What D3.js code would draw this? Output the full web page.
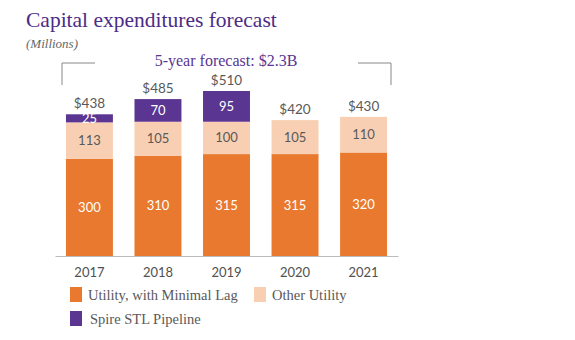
<!DOCTYPE html>
<html>
<head>
<meta charset="utf-8">
<script src="https://cdn.jsdelivr.net/npm/d3@7"></script>
<style>
  body { margin: 0; background: #fff; }
  svg { display: block; }
</style>
</head>
<body>
<div id="chart"></div>
<script>
// chart data
var years = ["2017", "2018", "2019", "2020", "2021"];
var utility = [300, 310, 315, 315, 320];
var otherUtility = [113, 105, 100, 105, 110];
var pipeline = [25, 70, 95, 0, 0];
var totals = ["$438", "$485", "$510", "$420", "$430"];
var seriesNames = ["Utility, with Minimal Lag", "Other Utility", "Spire STL Pipeline"];

var svgWidth = 575;
var svgHeight = 340;
var colors = ["#E8792F", "#F8CFB3", "#5A3591"];
var serif = "'Liberation Serif', Georgia, serif";
var sans = "Lato, 'Open Sans', sans-serif";

var svg = d3.select("#chart").append("svg")
  .attr("width", svgWidth)
  .attr("height", svgHeight);

// scales
var x = d3.scaleBand()
  .domain(years)
  .range([55, 398])
  .paddingInner(0.315)
  .paddingOuter(0.16);

var y = d3.scaleLinear()
  .domain([0, 510])
  .range([256, 91]);

// stack the rows
var rows = years.map(function(yr, i) {
  return { year: yr, utility: utility[i], other: otherUtility[i], pipeline: pipeline[i] };
});
var stack = d3.stack().keys(["utility", "other", "pipeline"]);
var layers = stack(rows);

// title block
svg.append("text")
  .attr("x", 26).attr("y", 27)
  .attr("font-family", serif)
  .attr("font-size", 21.5)
  .attr("fill", "#4B2C85")
  .text("Capital expenditures forecast");

svg.append("text")
  .attr("x", 26).attr("y", 48)
  .attr("font-family", serif)
  .attr("font-style", "italic")
  .attr("font-size", 13)
  .attr("fill", "#666")
  .text("(Millions)");

svg.append("text")
  .attr("x", 226).attr("y", 66)
  .attr("text-anchor", "middle")
  .attr("font-family", serif)
  .attr("font-size", 16)
  .attr("fill", "#5A3591")
  .text("5-year forecast: $2.3B");

// brackets
svg.append("path")
  .attr("d", "M95,63H62V85")
  .attr("fill", "none")
  .attr("stroke", "#888")
  .attr("stroke-width", 1);
svg.append("path")
  .attr("d", "M358,63H391V85")
  .attr("fill", "none")
  .attr("stroke", "#888")
  .attr("stroke-width", 1);

// bars
var groups = svg.selectAll("g.layer")
  .data(layers)
  .enter()
  .append("g")
  .attr("class", "layer")
  .attr("fill", function(d, i) { return colors[i]; });

groups.selectAll("rect")
  .data(function(d) { return d.filter(function(s) { return s[1] > s[0]; }); })
  .enter()
  .append("rect")
  .attr("x", function(d) { return x(d.data.year); })
  .attr("y", function(d) { return y(d[1]); })
  .attr("width", x.bandwidth())
  .attr("height", function(d) { return y(d[0]) - y(d[1]); });

// segment labels
groups.each(function(layer, li) {
  d3.select(this).selectAll("text")
    .data(layer.filter(function(s) { return s[1] > s[0]; }))
    .enter()
    .append("text")
    .attr("x", function(d) { return x(d.data.year) + x.bandwidth() / 2; })
    .attr("y", function(d) { return (y(d[0]) + y(d[1])) / 2 + 4.5; })
    .attr("text-anchor", "middle")
    .attr("font-family", sans)
    .attr("font-size", 13)
    .attr("fill", li === 1 ? "#595959" : "#fff")
    .text(function(d) { return d[1] - d[0]; });
});

// totals
svg.selectAll("text.total")
  .data(rows)
  .enter()
  .append("text")
  .attr("class", "total")
  .attr("x", function(d) { return x(d.year) + x.bandwidth() / 2; })
  .attr("y", function(d) { return y(d.utility + d.other + d.pipeline) - 6; })
  .attr("text-anchor", "middle")
  .attr("font-family", sans)
  .attr("font-size", 13.5)
  .attr("fill", "#595959")
  .text(function(d, i) { return totals[i]; });

// x axis
var xAxis = svg.append("g")
  .attr("transform", "translate(0,256)")
  .call(d3.axisBottom(x).tickSize(0).tickPadding(12));
xAxis.select(".domain").attr("stroke", "#bbb");
xAxis.selectAll("text")
  .attr("font-family", sans)
  .attr("font-size", 13)
  .attr("fill", "#505050");

// legend
var legendPos = [[70, 287], [254, 287], [70, 311]];
var legend = svg.selectAll("g.legend")
  .data(seriesNames)
  .enter()
  .append("g")
  .attr("class", "legend")
  .attr("transform", function(d, i) { return "translate(" + legendPos[i][0] + "," + legendPos[i][1] + ")"; });

legend.append("rect")
  .attr("width", 12).attr("height", 15)
  .attr("fill", function(d, i) { return colors[i]; });

legend.append("text")
  .attr("x", function(d, i) { return i === 2 ? 20 : 18; })
  .attr("y", 12.5)
  .attr("font-family", serif)
  .attr("font-size", 14.5)
  .attr("fill", "#595959")
  .text(function(d) { return d; });
</script>
</body>
</html>
